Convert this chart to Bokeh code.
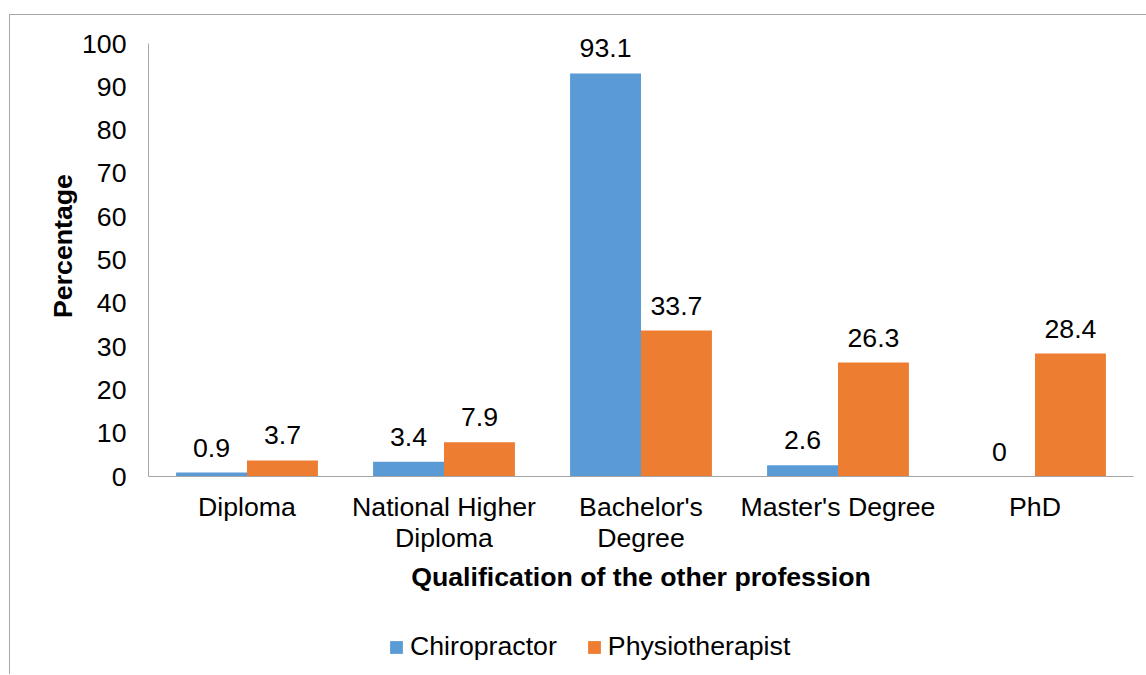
from bokeh.plotting import figure
from bokeh.models import ColumnDataSource, FactorRange, Legend, LegendItem, Range1d
from bokeh.layouts import column
from bokeh.transform import dodge
from bokeh.core.properties import value
from bokeh.embed import file_html
from bokeh.resources import INLINE

categories = ["Diploma", "National Higher\nDiploma", "Bachelor's\nDegree", "Master's Degree", "PhD"]
chiropractor = [0.9, 3.4, 93.1, 2.6, 0]
physiotherapist = [3.7, 7.9, 33.7, 26.3, 28.4]
y_ticks = [0, 10, 20, 30, 40, 50, 60, 70, 80, 90, 100]
series_names = ["Chiropractor", "Physiotherapist"]

FONT = "Liberation Sans"
FS = "26.7px"
BLUE = "#5B9BD5"
ORANGE = "#ED7D31"
AXIS_C = "#A6A6A6"

src = ColumnDataSource(dict(
    cat=categories,
    chiro=chiropractor,
    physio=physiotherapist,
    chiro_lbl=[f"{v:g}" for v in chiropractor],
    physio_lbl=[f"{v:g}" for v in physiotherapist],
))

# axis runs 0..100 over 433px; extra headroom above so labels are not clipped
y_max = y_ticks[-1]
px_per_unit = 4.33
headroom = 28 / px_per_unit

p = figure(
    x_range=FactorRange(factors=categories, range_padding=0),
    y_range=Range1d(0, y_max + headroom),
    width=1136, height=600,
    output_backend="svg", toolbar_location=None,
    min_border_left=138, min_border_top=0, min_border_right=13, min_border_bottom=139,
)
p.outline_line_color = None
p.background_fill_color = "white"
p.border_fill_color = "white"
p.xgrid.visible = False
p.ygrid.visible = False

bw = 0.36
off = 0.18
p.vbar(x=dodge("cat", -off, range=p.x_range), top="chiro", width=bw, source=src,
       fill_color=BLUE, line_color=None)
p.vbar(x=dodge("cat", off, range=p.x_range), top="physio", width=bw, source=src,
       fill_color=ORANGE, line_color=None)

for col, lbl, o in [("chiro", "chiro_lbl", -off), ("physio", "physio_lbl", off)]:
    p.text(x=dodge("cat", o, range=p.x_range), y=col, text=lbl, source=src,
           text_align="center", text_baseline="alphabetic", y_offset=-25,
           text_font=value(FONT), text_font_size=FS, text_color="black")

# Y axis
p.yaxis.ticker = y_ticks
p.yaxis.bounds = (0, y_max)
p.yaxis.axis_label = "Percentage"
p.yaxis.axis_label_text_font = FONT
p.yaxis.axis_label_text_font_size = FS
p.yaxis.axis_label_text_font_style = "bold"
p.yaxis.axis_label_text_color = "black"
p.yaxis.axis_label_standoff = 1
p.yaxis.major_label_text_font = FONT
p.yaxis.major_label_text_font_size = FS
p.yaxis.major_label_text_color = "black"
p.yaxis.major_label_standoff = 16
p.yaxis.major_tick_line_color = None
p.yaxis.minor_tick_line_color = None
p.yaxis.axis_line_color = AXIS_C

# X axis
p.xaxis.axis_label = "Qualification of the other profession"
p.xaxis.axis_label_text_font = FONT
p.xaxis.axis_label_text_font_size = FS
p.xaxis.axis_label_text_font_style = "bold"
p.xaxis.axis_label_text_color = "black"
p.xaxis.axis_label_standoff = 6
p.xaxis.major_label_text_font = FONT
p.xaxis.major_label_text_font_size = FS
p.xaxis.major_label_text_color = "black"
p.xaxis.major_label_text_line_height = 1.04
p.xaxis.major_label_standoff = 9
p.xaxis.major_label_orientation = "horizontal"
p.xaxis.major_tick_line_color = None
p.xaxis.minor_tick_line_color = None
p.xaxis.axis_line_color = AXIS_C

# Legend figure (below the chart)
lf = figure(width=1136, height=59, output_backend="svg", toolbar_location=None,
            x_axis_location=None, y_axis_location=None, min_border=0,
            x_range=(0, 1), y_range=(0, 1))
lf.outline_line_color = None
lf.xgrid.visible = False
lf.ygrid.visible = False
lr1 = lf.vbar(x=[-10], top=[-10], width=0.1, fill_color=BLUE, line_color=None)
lr2 = lf.vbar(x=[-10], top=[-10], width=0.1, fill_color=ORANGE, line_color=None)
legend = Legend(
    items=[LegendItem(label=series_names[0], renderers=[lr1]),
           LegendItem(label=series_names[1], renderers=[lr2])],
    orientation="horizontal",
    location=(240, 12),
    label_text_font=FONT, label_text_font_size=FS, label_text_color="black",
    glyph_width=16, glyph_height=16, label_standoff=6, spacing=29,
    padding=0, margin=0, border_line_color=None, background_fill_alpha=0,
)
lf.add_layout(legend, "center")

layout = column(p, lf, spacing=0, margin=(14, 0, 0, 9),
                styles={"border-left": "1px solid #a6a6a6", "border-top": "1px solid #a6a6a6"})

open("out.html", "w").write(file_html(layout, INLINE))
